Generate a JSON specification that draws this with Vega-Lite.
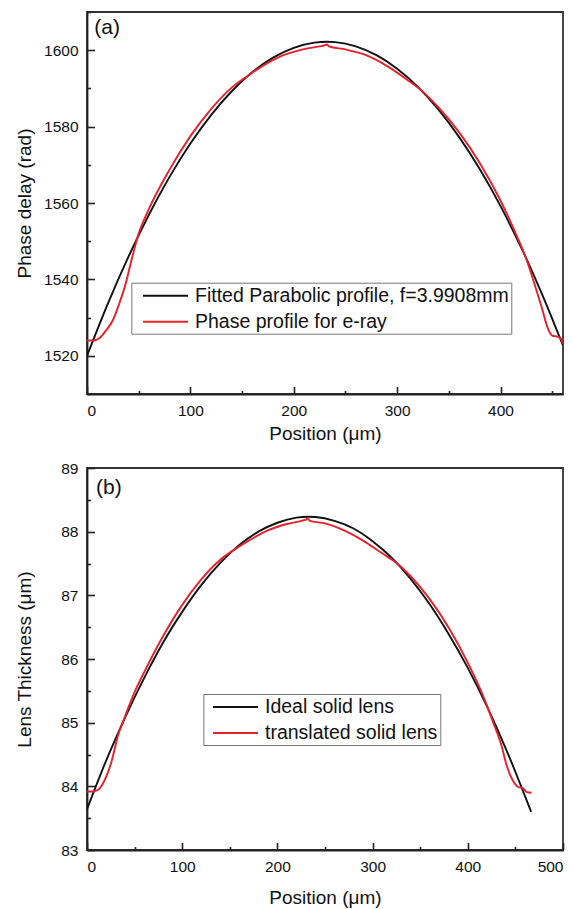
{
  "$schema": "https://vega.github.io/schema/vega-lite/v6.json",
  "padding": {"left": 14, "top": 10, "right": 5, "bottom": 0},
  "background": "white",
  "config": {
    "font": "Liberation Sans",
    "view": {"stroke": "#333", "strokeWidth": 1.8},
    "axis": {"grid": false, "domainColor": "#222", "domainWidth": 1.8, "tickColor": "#222", "tickWidth": 1.6, "labelFontSize": 15.5, "labelColor": "#111", "titleFontSize": 19, "titleFontWeight": "normal", "titleColor": "#111", "labelFont": "Liberation Sans", "titleFont": "Liberation Sans", "format": "d"},
    "legend": {"title": null, "symbolType": "M-2.25,0H2.25", "symbolSize": 400, "symbolStrokeWidth": 2, "labelFontSize": 19.5, "labelColor": "#111", "fillColor": "white", "strokeColor": "#777", "padding": 2, "rowPadding": 5, "labelOffset": 18.5, "labelLimit": 600}
  },
  "datasets": {
    "a": [
      {"x": 0, "y": 1520.0, "s": "fit"}, {"x": 20, "y": 1533.55, "s": "fit"}, {"x": 40, "y": 1545.89, "s": "fit"}, {"x": 60, "y": 1557.0, "s": "fit"}, {"x": 80, "y": 1566.9, "s": "fit"}, {"x": 100, "y": 1575.57, "s": "fit"}, {"x": 120, "y": 1583.02, "s": "fit"}, {"x": 140, "y": 1589.26, "s": "fit"}, {"x": 160, "y": 1594.27, "s": "fit"}, {"x": 180, "y": 1598.06, "s": "fit"}, {"x": 200, "y": 1600.63, "s": "fit"}, {"x": 220, "y": 1601.98, "s": "fit"}, {"x": 232, "y": 1602.2, "s": "fit"}, {"x": 240, "y": 1602.1, "s": "fit"}, {"x": 260, "y": 1601.01, "s": "fit"}, {"x": 280, "y": 1598.7, "s": "fit"}, {"x": 300, "y": 1595.16, "s": "fit"}, {"x": 320, "y": 1590.41, "s": "fit"}, {"x": 340, "y": 1584.43, "s": "fit"}, {"x": 360, "y": 1577.24, "s": "fit"}, {"x": 380, "y": 1568.82, "s": "fit"}, {"x": 400, "y": 1559.18, "s": "fit"}, {"x": 420, "y": 1548.32, "s": "fit"}, {"x": 440, "y": 1536.24, "s": "fit"}, {"x": 460.4, "y": 1522.7, "s": "fit"},
      {"x": 0, "y": 1524.0, "s": "ph"}, {"x": 6, "y": 1524.0, "s": "ph"}, {"x": 12, "y": 1524.6, "s": "ph"}, {"x": 18, "y": 1526.5, "s": "ph"}, {"x": 25, "y": 1529.3, "s": "ph"}, {"x": 31, "y": 1533.5, "s": "ph"}, {"x": 37, "y": 1538.5, "s": "ph"}, {"x": 43, "y": 1545.0, "s": "ph"}, {"x": 50, "y": 1552.0, "s": "ph"}, {"x": 60, "y": 1558.5, "s": "ph"}, {"x": 80, "y": 1568.8, "s": "ph"}, {"x": 100, "y": 1577.5, "s": "ph"}, {"x": 120, "y": 1584.6, "s": "ph"}, {"x": 140, "y": 1590.2, "s": "ph"}, {"x": 155, "y": 1593.2, "s": "ph"}, {"x": 170, "y": 1595.9, "s": "ph"}, {"x": 190, "y": 1598.7, "s": "ph"}, {"x": 210, "y": 1600.3, "s": "ph"}, {"x": 225, "y": 1601.0, "s": "ph"}, {"x": 230, "y": 1601.3, "s": "ph"}, {"x": 232, "y": 1601.5, "s": "ph"}, {"x": 234, "y": 1601.0, "s": "ph"}, {"x": 250, "y": 1600.2, "s": "ph"}, {"x": 270, "y": 1598.7, "s": "ph"}, {"x": 290, "y": 1595.9, "s": "ph"}, {"x": 310, "y": 1592.2, "s": "ph"}, {"x": 325, "y": 1589.1, "s": "ph"}, {"x": 340, "y": 1585.0, "s": "ph"}, {"x": 360, "y": 1578.5, "s": "ph"}, {"x": 380, "y": 1570.4, "s": "ph"}, {"x": 400, "y": 1560.6, "s": "ph"}, {"x": 415, "y": 1551.8, "s": "ph"}, {"x": 425, "y": 1545.3, "s": "ph"}, {"x": 432, "y": 1539.5, "s": "ph"}, {"x": 440, "y": 1532.5, "s": "ph"}, {"x": 446, "y": 1527.0, "s": "ph"}, {"x": 450, "y": 1525.3, "s": "ph"}, {"x": 455, "y": 1525.0, "s": "ph"}, {"x": 458, "y": 1524.6, "s": "ph"}, {"x": 460.4, "y": 1523.2, "s": "ph"}
    ],
    "b": [
      {"x": 0, "y": 83.64, "s": "ideal"}, {"x": 20, "y": 84.40, "s": "ideal"}, {"x": 40, "y": 85.08, "s": "ideal"}, {"x": 60, "y": 85.70, "s": "ideal"}, {"x": 80, "y": 86.26, "s": "ideal"}, {"x": 100, "y": 86.74, "s": "ideal"}, {"x": 120, "y": 87.16, "s": "ideal"}, {"x": 140, "y": 87.51, "s": "ideal"}, {"x": 160, "y": 87.79, "s": "ideal"}, {"x": 180, "y": 88.0, "s": "ideal"}, {"x": 200, "y": 88.14, "s": "ideal"}, {"x": 220, "y": 88.22, "s": "ideal"}, {"x": 232.7, "y": 88.235, "s": "ideal"}, {"x": 240, "y": 88.23, "s": "ideal"}, {"x": 260, "y": 88.17, "s": "ideal"}, {"x": 280, "y": 88.05, "s": "ideal"}, {"x": 300, "y": 87.85, "s": "ideal"}, {"x": 320, "y": 87.59, "s": "ideal"}, {"x": 340, "y": 87.26, "s": "ideal"}, {"x": 360, "y": 86.86, "s": "ideal"}, {"x": 380, "y": 86.39, "s": "ideal"}, {"x": 400, "y": 85.86, "s": "ideal"}, {"x": 420, "y": 85.26, "s": "ideal"}, {"x": 440, "y": 84.59, "s": "ideal"}, {"x": 460, "y": 83.85, "s": "ideal"}, {"x": 466.5, "y": 83.6, "s": "ideal"},
      {"x": 0, "y": 83.92, "s": "trans"}, {"x": 6, "y": 83.92, "s": "trans"}, {"x": 12, "y": 83.95, "s": "trans"}, {"x": 18, "y": 84.08, "s": "trans"}, {"x": 25, "y": 84.35, "s": "trans"}, {"x": 33, "y": 84.82, "s": "trans"}, {"x": 40, "y": 85.10, "s": "trans"}, {"x": 50, "y": 85.48, "s": "trans"}, {"x": 60, "y": 85.79, "s": "trans"}, {"x": 80, "y": 86.36, "s": "trans"}, {"x": 100, "y": 86.85, "s": "trans"}, {"x": 120, "y": 87.25, "s": "trans"}, {"x": 140, "y": 87.56, "s": "trans"}, {"x": 155, "y": 87.72, "s": "trans"}, {"x": 170, "y": 87.86, "s": "trans"}, {"x": 190, "y": 88.02, "s": "trans"}, {"x": 210, "y": 88.12, "s": "trans"}, {"x": 225, "y": 88.17, "s": "trans"}, {"x": 230, "y": 88.19, "s": "trans"}, {"x": 232, "y": 88.21, "s": "trans"}, {"x": 234, "y": 88.17, "s": "trans"}, {"x": 250, "y": 88.13, "s": "trans"}, {"x": 270, "y": 88.02, "s": "trans"}, {"x": 290, "y": 87.86, "s": "trans"}, {"x": 310, "y": 87.66, "s": "trans"}, {"x": 325, "y": 87.51, "s": "trans"}, {"x": 340, "y": 87.30, "s": "trans"}, {"x": 360, "y": 86.94, "s": "trans"}, {"x": 380, "y": 86.49, "s": "trans"}, {"x": 400, "y": 85.94, "s": "trans"}, {"x": 415, "y": 85.46, "s": "trans"}, {"x": 427, "y": 84.99, "s": "trans"}, {"x": 435, "y": 84.66, "s": "trans"}, {"x": 441, "y": 84.32, "s": "trans"}, {"x": 447, "y": 84.10, "s": "trans"}, {"x": 453, "y": 83.99, "s": "trans"}, {"x": 458, "y": 83.97, "s": "trans"}, {"x": 462, "y": 83.91, "s": "trans"}, {"x": 467, "y": 83.90, "s": "trans"}
    ]
  },
  "spacing": 15,
  "resolve": {"scale": {"x": "independent", "y": "independent", "color": "independent"}},
  "vconcat": [
    {
      "width": 476,
      "height": 382,
      "data": {"name": "a"},
      "layer": [
        {
          "mark": {"type": "line", "clip": true, "strokeWidth": 1.9, "interpolate": "monotone"},
          "encoding": {
            "x": {"field": "x", "type": "quantitative", "scale": {"domain": [0, 460.4], "nice": false, "zero": false},
                  "axis": {"orient": "bottom", "values": [0, 100, 200, 300, 400], "tickSize": -7.5, "labelPadding": 16.5, "title": "Position (μm)", "titlePadding": 6}},
            "y": {"field": "y", "type": "quantitative", "scale": {"domain": [1510, 1610], "nice": false, "zero": false},
                  "axis": {"orient": "left", "values": [1520, 1540, 1560, 1580, 1600], "tickSize": -7.5, "labelPadding": 16.5, "title": "Phase delay (rad)", "titlePadding": 9}},
            "color": {"field": "s", "type": "nominal",
                      "scale": {"domain": ["fit", "ph"], "range": ["#111111", "#e8202a"]},
                      "legend": {"orient": "none", "legendX": 44.3, "legendY": 270.7, "symbolOffset": 21.2,
                                 "labelExpr": "datum.label == 'fit' ? 'Fitted Parabolic profile, f=3.9908mm' : 'Phase profile for e-ray'"}}
          }
        },
        {
          "mark": {"type": "line", "opacity": 0},
          "encoding": {
            "x": {"field": "x", "type": "quantitative",
                  "axis": {"orient": "bottom", "values": [50, 150, 250, 350, 450], "labels": false, "domain": false, "tickSize": -3.5, "title": null}},
            "y": {"field": "y", "type": "quantitative",
                  "axis": {"orient": "left", "values": [1510, 1530, 1550, 1570, 1590, 1610], "labels": false, "domain": false, "tickSize": -3.5, "title": null}},
            "detail": {"field": "s"}
          }
        },
        {
          "data": {"values": [{"x": 7.0, "y": 1605.8, "t": "(a)"}]},
          "mark": {"type": "text", "align": "left", "baseline": "middle", "fontSize": 21, "color": "#111"},
          "encoding": {
            "x": {"field": "x", "type": "quantitative", "axis": null},
            "y": {"field": "y", "type": "quantitative", "axis": null},
            "text": {"field": "t"}
          }
        }
      ],
      "resolve": {"axis": {"x": "independent", "y": "independent"}}
    },
    {
      "width": 476,
      "height": 382,
      "data": {"name": "b"},
      "layer": [
        {
          "mark": {"type": "line", "clip": true, "strokeWidth": 1.9, "interpolate": "monotone"},
          "encoding": {
            "x": {"field": "x", "type": "quantitative", "scale": {"domain": [0, 500], "nice": false, "zero": false},
                  "axis": {"orient": "bottom", "values": [0, 100, 200, 300, 400, 500], "tickSize": -7.5, "labelPadding": 16.5, "title": "Position (μm)", "titlePadding": 14}},
            "y": {"field": "y", "type": "quantitative", "scale": {"domain": [83, 89], "nice": false, "zero": false},
                  "axis": {"orient": "left", "values": [83, 84, 85, 86, 87, 88, 89], "tickSize": -7.5, "labelPadding": 16.5, "title": "Lens Thickness (μm)", "titlePadding": 25.8}},
            "color": {"field": "s", "type": "nominal",
                      "scale": {"domain": ["ideal", "trans"], "range": ["#111111", "#e8202a"]},
                      "legend": {"orient": "none", "legendX": 116.3, "legendY": 226, "symbolOffset": 19.2,
                                 "labelExpr": "datum.label == 'ideal' ? 'Ideal solid lens' : 'translated solid lens'"}}
          }
        },
        {
          "mark": {"type": "line", "opacity": 0},
          "encoding": {
            "x": {"field": "x", "type": "quantitative",
                  "axis": {"orient": "bottom", "values": [50, 150, 250, 350, 450], "labels": false, "domain": false, "tickSize": -3.5, "title": null}},
            "y": {"field": "y", "type": "quantitative",
                  "axis": {"orient": "left", "values": [83.5, 84.5, 85.5, 86.5, 87.5, 88.5], "labels": false, "domain": false, "tickSize": -3.5, "title": null}},
            "detail": {"field": "s"}
          }
        },
        {
          "data": {"values": [{"x": 9.5, "y": 88.69, "t": "(b)"}]},
          "mark": {"type": "text", "align": "left", "baseline": "middle", "fontSize": 21, "color": "#111"},
          "encoding": {
            "x": {"field": "x", "type": "quantitative", "axis": null},
            "y": {"field": "y", "type": "quantitative", "axis": null},
            "text": {"field": "t"}
          }
        }
      ],
      "resolve": {"axis": {"x": "independent", "y": "independent"}}
    }
  ]
}
